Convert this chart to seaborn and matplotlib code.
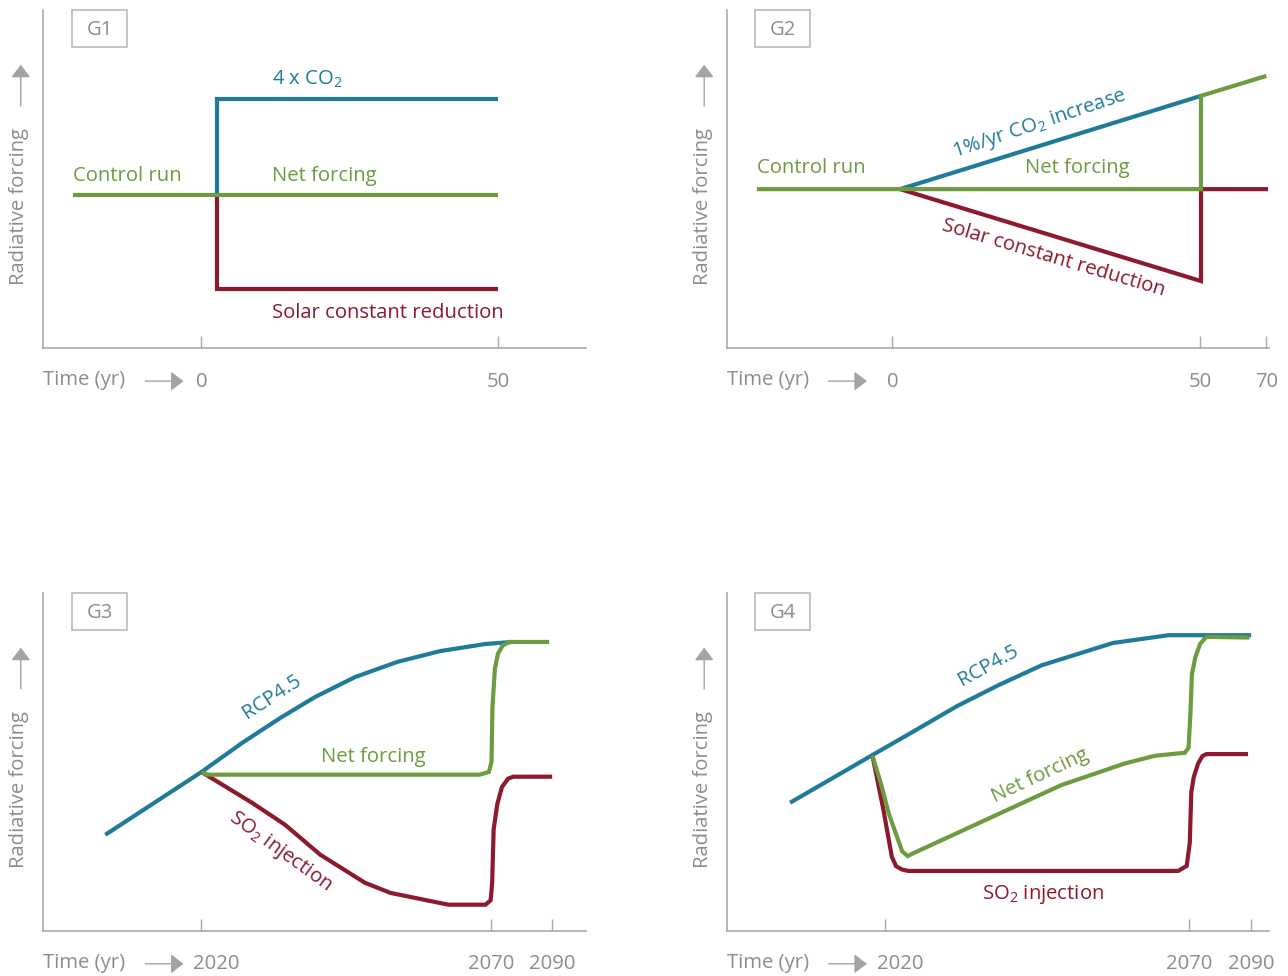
import numpy as np
import pandas as pd
import matplotlib
matplotlib.use("Agg")
import matplotlib.pyplot as plt
from matplotlib.patches import Rectangle
from matplotlib.transforms import ScaledTranslation
import seaborn as sns

# ---------------- data (schematic values) ----------------
# G1: abrupt 4xCO2 vs solar constant reduction
g1_ctrl_x = [-21.6, 50.0]
g1_ctrl_y = [4.53, 4.53]
g1_co2_x = [2.6, 2.6, 50.0]
g1_co2_y = [4.53, 7.37, 7.37]
g1_sol_x = [2.6, 2.6, 50.0]
g1_sol_y = [4.53, 1.76, 1.76]
g1_ticks = [0, 50]
g1_ticklabels = ["0", "50"]

# G2: 1%/yr CO2 increase
g2_ctrl_x = [-22.0, 50.2, 50.2, 70.0]
g2_ctrl_y = [4.70, 4.70, 7.46, 8.05]
g2_co2_x = [1.25, 50.2]
g2_co2_y = [4.70, 7.46]
g2_sol_x = [1.25, 50.2, 50.2, 70.5]
g2_sol_y = [4.70, 1.98, 4.70, 4.70]
g2_ticks = [0, 50, 70]
g2_ticklabels = ["0", "50", "70"]

# G3: RCP4.5 with SO2 injection holding forcing constant
g3_rcp_x = [2003.4, 2020.0, 2027.0, 2033.6, 2039.6, 2046.5, 2053.8, 2061.2, 2069.0, 2076.9]
g3_rcp_y = [2.84, 4.70, 5.56, 6.30, 6.92, 7.51, 7.96, 8.28, 8.49, 8.55]
g3_net_x = [2020.0, 2021.0, 2068.0, 2069.6, 2070.1, 2070.4, 2071.2, 2072.2, 2073.8, 2076.0, 2089.0]
g3_net_y = [4.70, 4.62, 4.62, 4.70, 5.00, 6.60, 7.75, 8.20, 8.45, 8.55, 8.55]
g3_so2_x = [2020.0, 2028.7, 2034.4, 2040.5, 2048.2, 2052.6, 2062.6, 2069.0, 2069.9, 2070.3, 2070.8,
            2072.0, 2073.5, 2075.5, 2077.2, 2090.0]
g3_so2_y = [4.70, 3.79, 3.14, 2.25, 1.42, 1.12, 0.77, 0.77, 0.90, 1.40, 3.00,
            3.75, 4.25, 4.50, 4.56, 4.56]
g3_ticks = [2020, 2070, 2090]
g3_ticklabels = ["2020", "2070", "2090"]

# G4: RCP4.5 with constant SO2 injection
g4_rcp_x = [2004.5, 2018.0, 2023.7, 2031.9, 2038.7, 2045.8, 2057.5, 2066.6, 2090.1]
g4_rcp_y = [3.79, 5.20, 5.79, 6.65, 7.27, 7.86, 8.52, 8.75, 8.75]
g4_net_x = [2018.0, 2019.5, 2020.7, 2022.9, 2023.8, 2024.8, 2039.0, 2049.0, 2059.4, 2064.4,
            2069.3, 2069.9, 2070.4, 2070.9, 2072.0, 2073.6, 2075.6, 2089.6]
g4_net_y = [5.20, 4.30, 3.47, 2.35, 2.21, 2.30, 3.48, 4.31, 4.95, 5.18,
            5.27, 5.42, 6.40, 7.60, 8.10, 8.50, 8.70, 8.68]
g4_so2_x = [2018.0, 2019.8, 2021.2, 2021.9, 2022.9, 2023.9, 2068.2, 2069.6, 2070.2, 2070.7,
            2071.5, 2072.9, 2074.3, 2075.6, 2089.1]
g4_so2_y = [5.20, 3.60, 2.19, 1.91, 1.81, 1.77, 1.77, 1.92, 2.60, 4.10,
            4.55, 4.95, 5.17, 5.23, 5.23]
g4_ticks = [2020, 2070, 2090]
g4_ticklabels = ["2020", "2070", "2090"]

# ---------------- style ----------------
BLUE = "#1f7b98"
GREEN = "#6d9b3f"
RED = "#8c1a2c"
GRAY_TXT = "#8c8c8c"
GRAY_AX = "#a9a9a9"
FONT = "Open Sans"
FS = 14.6
FW = "normal"

sns.set_theme(style="white")
plt.rcParams["font.family"] = [FONT, "DejaVu Sans"]
plt.rcParams["font.weight"] = FW
plt.rcParams["mathtext.fontset"] = "custom"
plt.rcParams["mathtext.rm"] = FONT
plt.rcParams["mathtext.it"] = FONT
plt.rcParams["mathtext.default"] = "regular"

W, H = 1288, 976
fig = plt.figure(figsize=(W / 100, H / 100), dpi=100)
fig.patch.set_facecolor("white")


def px_axes(left, top, right, bottom):
    return fig.add_axes([left / W, 1 - bottom / H, (right - left) / W, (bottom - top) / H])


def make_scale(ax, brk, ratio):
    def fwd(x):
        x = np.asarray(x, dtype=float)
        return np.where(x <= brk, x, brk + (x - brk) * ratio)

    def inv(x):
        x = np.asarray(x, dtype=float)
        return np.where(x <= brk, x, brk + (x - brk) / ratio)

    ax.set_xscale("function", functions=(fwd, inv))


def draw(ax, xs, ys, color):
    df = pd.DataFrame({"t": xs, "f": ys})
    sns.lineplot(data=df, x="t", y="f", ax=ax, color=color, lw=3.0, sort=False,
                 estimator=None, solid_capstyle="butt", solid_joinstyle="miter")


def style_axes(ax, name, ticks, ticklabels, xlim, shift_first=False):
    ax.set_xlim(*xlim)
    ax.set_ylim(0, 10)
    for s in ["top", "right"]:
        ax.spines[s].set_visible(False)
    for s in ["left", "bottom"]:
        ax.spines[s].set_color(GRAY_AX)
        ax.spines[s].set_linewidth(1.2)
    ax.set_yticks([])
    ax.set_xticks(ticks)
    ax.set_xticklabels(ticklabels)
    ax.tick_params(axis="x", direction="in", length=8.5, width=1.0, color=GRAY_AX,
                   labelcolor=GRAY_TXT, labelsize=FS, pad=17, bottom=True)
    if shift_first:
        lab = ax.get_xticklabels()[0]
        lab.set_horizontalalignment("left")
        lab.set_transform(lab.get_transform() + ScaledTranslation(-0.08, 0, fig.dpi_scale_trans))
    ax.set_xlabel("")
    ax.set_ylabel("")
    ax.set_facecolor("white")
    # panel tag box
    ax.add_patch(Rectangle((0.053, 0.891), 0.101, 0.109, transform=ax.transAxes,
                           fill=False, ec="#b5b5b5", lw=1.1, clip_on=False))
    ax.text(0.1035, 0.941, name, transform=ax.transAxes, ha="center", va="center",
            fontsize=FS, color=GRAY_TXT)
    # y label with arrow
    ax.text(-0.0445, 0.419, "Radiative forcing", transform=ax.transAxes, rotation=90,
            ha="center", va="center", fontsize=FS, color=GRAY_TXT)
    ax.annotate("", xy=(-0.0415, 0.838), xytext=(-0.0415, 0.716), xycoords="axes fraction",
                arrowprops=dict(arrowstyle="-|>,head_length=0.55,head_width=0.42",
                                mutation_scale=14, color="#a3a3a3", lw=1.0,
                                shrinkA=0, shrinkB=0), annotation_clip=False)
    # x label with arrow
    ax.text(0.0, -0.096, "Time (yr)", transform=ax.transAxes, ha="left", va="center",
            fontsize=FS, color=GRAY_TXT)
    ax.annotate("", xy=(0.2585, -0.098), xytext=(0.188, -0.098), xycoords="axes fraction",
                arrowprops=dict(arrowstyle="-|>,head_length=0.55,head_width=0.42",
                                mutation_scale=14, color="#a3a3a3", lw=1.0,
                                shrinkA=0, shrinkB=0), annotation_clip=False)


# ---------------- G1 ----------------
ax1 = px_axes(43.3, 10, 585.7, 348)
draw(ax1, g1_co2_x, g1_co2_y, BLUE)
draw(ax1, g1_sol_x, g1_sol_y, RED)
draw(ax1, g1_ctrl_x, g1_ctrl_y, GREEN)
style_axes(ax1, "G1", g1_ticks, g1_ticklabels, (-26.6, 64.7))
ax1.text(11.9, 7.95, "4 x CO$_2$", color=BLUE, fontsize=FS, ha="left", va="center")
ax1.text(-21.6, 5.1, "Control run", color=GREEN, fontsize=FS, ha="left", va="center")
ax1.text(11.9, 5.1, "Net forcing", color=GREEN, fontsize=FS, ha="left", va="center")
ax1.text(11.9, 1.04, "Solar constant reduction", color=RED, fontsize=FS, ha="left", va="center")

# ---------------- G2 ----------------
ax2 = px_axes(726.7, 10, 1269, 348)
make_scale(ax2, 50, 0.536)
draw(ax2, g2_co2_x, g2_co2_y, BLUE)
draw(ax2, g2_sol_x, g2_sol_y, RED)
draw(ax2, g2_ctrl_x, g2_ctrl_y, GREEN)
style_axes(ax2, "G2", g2_ticks, g2_ticklabels, (-26.9, 70.8))
ax2.text(-22.0, 5.33, "Control run", color=GREEN, fontsize=FS, ha="left", va="center")
ax2.text(21.5, 5.33, "Net forcing", color=GREEN, fontsize=FS, ha="left", va="center")
ax2.text(24.0, 6.62, "1%/yr CO$_2$ increase", color=BLUE, fontsize=FS, ha="center",
         va="center", rotation=18.5, rotation_mode="anchor")
ax2.text(26.1, 2.66, "Solar constant reduction", color=RED, fontsize=FS, ha="center",
         va="center", rotation=-16.5, rotation_mode="anchor")

# ---------------- G3 ----------------
ax3 = px_axes(43.3, 593, 585.7, 930.7)
make_scale(ax3, 2070, 0.526)
draw(ax3, g3_rcp_x, g3_rcp_y, BLUE)
draw(ax3, g3_so2_x, g3_so2_y, RED)
draw(ax3, g3_net_x, g3_net_y, GREEN)
style_axes(ax3, "G3", g3_ticks, g3_ticklabels, (1992.7, 2101.0), shift_first=True)
ax3.text(2032.2, 6.92, "RCP4.5", color=BLUE, fontsize=FS, ha="center", va="center",
         rotation=33, rotation_mode="anchor")
ax3.text(2049.6, 5.13, "Net forcing", color=GREEN, fontsize=FS, ha="center", va="center")
ax3.text(2033.6, 2.34, "SO$_2$ injection", color=RED, fontsize=FS, ha="center", va="center",
         rotation=-36, rotation_mode="anchor")

# ---------------- G4 ----------------
ax4 = px_axes(726.7, 593, 1269, 930.7)
make_scale(ax4, 2070, 0.506)
draw(ax4, g4_rcp_x, g4_rcp_y, BLUE)
draw(ax4, g4_so2_x, g4_so2_y, RED)
draw(ax4, g4_net_x, g4_net_y, GREEN)
style_axes(ax4, "G4", g4_ticks, g4_ticklabels, (1994.1, 2095.9), shift_first=True)
ax4.text(2037.0, 7.86, "RCP4.5", color=BLUE, fontsize=FS, ha="center", va="center",
         rotation=29, rotation_mode="anchor")
ax4.text(2045.5, 4.58, "Net forcing", color=GREEN, fontsize=FS, ha="center", va="center",
         rotation=25, rotation_mode="anchor")
ax4.text(2046.0, 1.08, "SO$_2$ injection", color=RED, fontsize=FS, ha="center", va="center")

fig.savefig("out.png", dpi=100, facecolor="white")
